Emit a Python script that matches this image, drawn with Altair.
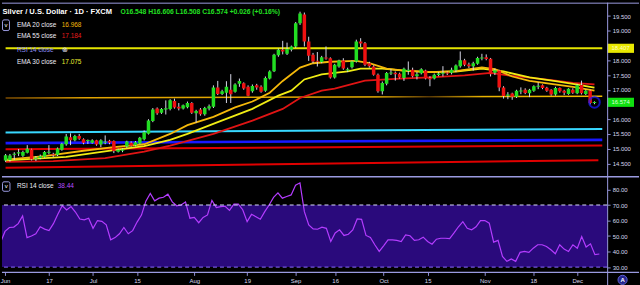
import altair as alt
import pandas as pd

# ---------------- data ----------------
first_day, last_day = "2019-05-31", "2019-12-09"   # daily bars, weekdays

opens = [14.60, 14.62, 14.79, 14.84, 14.76, 14.86, 14.97, 14.66, 14.68, 14.73,
         14.86, 14.80, 14.79, 14.96, 15.15, 15.39, 15.29, 15.43, 15.32, 15.26,
         15.20, 15.29, 15.14, 15.20, 15.27, 15.26, 14.90, 14.93, 15.07, 15.20,
         15.12, 15.18, 15.32, 15.51, 15.94, 16.36, 16.22, 16.33, 16.35, 16.62,
         16.42, 16.36, 16.41, 16.55, 16.20, 16.33, 16.17, 16.36, 16.42, 17.08,
         16.86, 16.90, 17.00, 16.93, 17.20, 17.22, 17.10, 16.95, 17.15, 17.10,
         16.97, 17.38, 17.63, 18.17, 18.36, 18.22, 18.36, 18.47, 19.26, 19.55,
         18.64, 18.19, 17.98, 17.94, 18.08, 18.07, 17.42, 17.79, 17.99, 17.65,
         17.76, 17.96, 18.64, 18.58, 17.90, 17.79, 17.51, 16.95, 17.20, 17.55,
         17.58, 17.54, 17.40, 17.64, 17.68, 17.46, 17.56, 17.65, 17.38, 17.38,
         17.50, 17.54, 17.56, 17.58, 17.66, 17.80, 18.00, 17.86, 17.80, 17.88,
         18.06, 18.10, 18.05, 17.58, 17.65, 17.08, 16.80, 16.87, 16.76, 16.94,
         17.00, 16.88, 16.97, 17.10, 17.15, 17.07, 17.00, 16.84, 17.06, 16.97,
         16.86, 17.00, 16.88, 17.16, 16.86, 16.97, 16.548]
highs = [14.82, 14.82, 14.88, 14.99, 14.93, 15.12, 15.00, 14.75, 14.80, 14.92,
         15.12, 14.86, 15.04, 15.20, 15.50, 15.52, 15.47, 15.50, 15.35, 15.31,
         15.32, 15.30, 15.32, 15.45, 15.30, 15.28, 15.00, 15.01, 15.27, 15.25,
         15.26, 15.40, 15.62, 16.00, 16.38, 16.40, 16.38, 16.64, 16.68, 16.70,
         16.55, 16.50, 16.60, 16.58, 16.32, 16.38, 16.42, 16.50, 17.15, 17.30,
         17.00, 17.29, 17.53, 17.22, 17.38, 17.25, 17.15, 17.18, 17.20, 17.15,
         17.45, 17.66, 18.22, 18.40, 18.66, 18.60, 18.50, 19.30, 19.65, 19.62,
         18.80, 18.25, 18.28, 18.15, 18.47, 18.10, 17.88, 18.02, 18.07, 17.75,
         17.99, 18.70, 18.75, 18.62, 17.95, 17.83, 17.55, 17.28, 17.60, 17.70,
         17.62, 17.58, 17.75, 17.96, 17.75, 17.60, 17.73, 17.68, 17.46, 17.55,
         17.60, 17.80, 17.62, 17.75, 17.86, 18.30, 18.05, 17.92, 17.95, 18.12,
         18.22, 18.20, 18.08, 17.72, 17.68, 17.12, 16.92, 16.90, 17.00, 17.08,
         17.05, 17.03, 17.15, 17.25, 17.18, 17.10, 17.02, 17.10, 17.08, 17.00,
         17.05, 17.05, 17.20, 17.31, 17.00, 17.00, 16.606]
lows = [14.55, 14.56, 14.62, 14.75, 14.72, 14.84, 14.60, 14.58, 14.64, 14.70,
        14.81, 14.72, 14.75, 14.93, 15.10, 15.12, 15.25, 15.30, 15.15, 15.16,
        15.17, 15.10, 15.05, 15.15, 15.15, 14.85, 14.87, 14.88, 15.03, 15.07,
        15.08, 15.15, 15.28, 15.48, 15.90, 16.15, 16.18, 16.16, 16.30, 16.36,
        16.30, 16.33, 16.37, 16.18, 15.88, 16.12, 16.12, 16.30, 16.38, 16.82,
        16.82, 16.55, 16.55, 16.90, 17.10, 17.00, 16.78, 16.90, 17.00, 16.90,
        16.93, 17.35, 17.60, 18.12, 18.20, 18.18, 18.30, 18.42, 19.20, 18.47,
        17.98, 17.90, 17.79, 17.90, 18.02, 17.38, 17.38, 17.75, 17.68, 17.60,
        17.72, 17.92, 18.45, 17.80, 17.75, 17.48, 16.90, 16.84, 17.15, 17.50,
        17.31, 17.38, 17.30, 17.51, 17.42, 17.35, 17.52, 17.35, 17.12, 17.35,
        17.46, 17.45, 17.50, 17.52, 17.60, 17.75, 17.80, 17.74, 17.65, 17.85,
        18.00, 18.00, 17.45, 17.50, 16.95, 16.70, 16.68, 16.66, 16.72, 16.85,
        16.85, 16.75, 16.93, 17.02, 17.02, 16.93, 16.80, 16.80, 16.90, 16.82,
        16.83, 16.86, 16.85, 16.84, 16.82, 16.50, 16.508]
closes = [14.78, 14.77, 14.82, 14.87, 14.89, 15.00, 14.64, 14.69, 14.74, 14.89,
          14.88, 14.78, 15.01, 15.17, 15.41, 15.29, 15.43, 15.34, 15.20, 15.28,
          15.29, 15.14, 15.29, 15.23, 15.20, 14.92, 14.96, 14.97, 15.24, 15.10,
          15.22, 15.37, 15.56, 15.96, 16.33, 16.20, 16.35, 16.37, 16.64, 16.40,
          16.36, 16.47, 16.55, 16.22, 16.28, 16.17, 16.38, 16.44, 17.08, 16.86,
          16.95, 17.10, 16.85, 17.18, 17.30, 17.04, 16.80, 17.13, 17.08, 16.93,
          17.40, 17.62, 18.19, 18.36, 18.30, 18.38, 18.47, 19.26, 19.59, 18.64,
          18.15, 17.96, 17.95, 18.10, 18.06, 17.42, 17.85, 17.99, 17.72, 17.70,
          17.96, 18.64, 18.57, 17.85, 17.80, 17.51, 16.95, 17.23, 17.57, 17.57,
          17.53, 17.42, 17.71, 17.66, 17.46, 17.53, 17.70, 17.38, 17.36, 17.51,
          17.55, 17.56, 17.55, 17.68, 17.82, 18.00, 17.85, 17.80, 17.90, 18.08,
          18.09, 18.04, 17.53, 17.66, 17.08, 16.79, 16.84, 16.76, 16.97, 16.97,
          16.89, 17.00, 17.12, 17.12, 17.06, 16.97, 16.84, 17.06, 16.95, 16.90,
          17.03, 16.90, 17.15, 16.88, 16.97, 16.55, 16.574]
rsi14 = [46, 53, 55.5, 55.8, 58, 63, 49, 50, 51.5, 56,
         54.5, 53.5, 58, 64, 69.5, 66.8, 69, 65.5, 61, 60.5,
         61.5, 55, 60, 59.5, 57.2, 47.6, 49, 51.5, 55.5, 51.5,
         53.5, 59, 63.5, 72.5, 77.4, 72.7, 74.4, 75, 77, 72,
         69.5, 70, 72, 61.5, 62, 58.6, 62, 63.6, 73, 68.3,
         69, 69.2, 66.5, 70.6, 70.6, 67, 59.3, 64, 62.5, 60.8,
         65.7, 70, 74.9, 77.8, 74.4, 75.5, 76.5, 82.8, 84.3, 65.7,
         57.2, 54.6, 54.4, 55.7, 55, 46.5, 52, 54, 50.4, 51.2,
         54, 61, 60.8, 50.4, 49.1, 44.4, 40.1, 43.7, 47.6, 47.6,
         47.2, 46.5, 50.8, 50.2, 47.2, 47.6, 49.3, 46.5, 44.8, 48,
         48.6, 48.6, 48.4, 52, 56, 59.3, 55, 54, 56, 60,
         60, 58.3, 46.1, 47.2, 36.9, 33.7, 35.2, 33.7, 39.5, 40.1,
         39.5, 42.2, 44.4, 44.4, 43.3, 41.2, 38.6, 44.4, 41.6, 40.1,
         44.4, 42.2, 49.7, 42.9, 45, 38, 38.44]

# EMA readings (bar number, value)
ema20_at = [0, 9, 18, 25, 32, 38, 42, 48, 53, 57, 61, 64, 68, 71, 75, 81, 84, 88,
            92, 98, 104, 110, 113, 117, 121, 126, 131, 136]
ema20_val = [14.63, 14.75, 14.93, 15.05, 15.15, 15.5, 15.8, 16.08, 16.4, 16.6, 16.9,
             17.3, 17.75, 17.9, 17.95, 17.98, 17.9, 17.72, 17.65, 17.6, 17.63, 17.76,
             17.7, 17.45, 17.3, 17.2, 17.1, 16.968]
ema30_at = [0, 14, 25, 32, 38, 42, 49, 57, 63, 66, 69, 73, 79, 82, 87, 92, 98, 104,
            110, 115, 121, 127, 131, 136]
ema30_val = [14.6, 14.72, 14.95, 15.09, 15.3, 15.5, 15.9, 16.35, 16.8, 16.97, 17.35,
             17.52, 17.62, 17.72, 17.72, 17.65, 17.6, 17.62, 17.72, 17.62, 17.42,
             17.29, 17.2, 17.075]
ema55_at = [0, 11, 23, 32, 38, 48, 57, 64, 68, 73, 76, 83, 91, 98, 106, 112, 116,
            121, 127, 131, 136]
ema55_val = [14.55, 14.58, 14.68, 14.9, 15.1, 15.5, 15.95, 16.35, 16.72, 16.97, 17.04,
             17.31, 17.38, 17.42, 17.49, 17.57, 17.49, 17.41, 17.31, 17.23, 17.184]

# drawn lines: price at the left end and at the right end
line_names = ["resistance", "support", "cyan", "blue", "red_hi", "red_lo"]
line_from = [18.407, 16.72, 15.547, 15.19, 14.98, 14.35]
line_to = [18.407, 16.78, 15.666, 15.30, 15.11, 14.61]
line_to_bar = [137.8, 137.8, 137.8, 137.8, 137.8, 136.9]

tick_dates = ["2019-06-03", "2019-06-17", "2019-07-01", "2019-07-15", "2019-08-01",
              "2019-08-19", "2019-09-03", "2019-09-16", "2019-10-01", "2019-10-15",
              "2019-11-01", "2019-11-18", "2019-12-02"]
tick_labels = ["Jun", "17", "Jul", "15", "Aug", "19", "Sep", "16", "Oct", "15",
               "Nov", "18", "Dec"]
price_ticks = [14.5, 15.0, 15.5, 16.0, 17.0, 17.5, 18.0, 19.0, 19.5]
rsi_ticks = [30, 40, 50, 60, 70, 80]
rsi_band = [30, 70]

ohlc_text = "O16.548 H16.606 L16.508 C16.574 +0.026 (+0.16%)"
last_close = 16.574
resistance = 18.407
ema20_last, ema55_last, ema30_last = 16.968, 17.184, 17.075
rsi_last = 38.44

# ---------------- styles ----------------
FONT = "Liberation Sans"
UP, DOWN, WICK = "#22dd22", "#ee1111", "#d6d6e6"
C20, C30, C55 = "#f4b80a", "#f0ec14", "#e01414"
BORDER = "#9a9ae0"
W, HP, HR = 608, 175, 96
PX_PER_BAR, FIRST_X = 4.423, -1.4
x_lo = -FIRST_X / PX_PER_BAR
x_hi = x_lo + W / PX_PER_BAR

n = len(closes)
dates = pd.bdate_range(first_day, last_day)
assert len(dates) == n == len(opens) == len(highs) == len(lows) == len(rsi14)
tick_idx = [int(dates.get_loc(pd.Timestamp(d))) for d in tick_dates]

bars = pd.DataFrame({"i": range(n), "o": opens, "h": highs, "l": lows, "c": closes})
bars["dir"] = ["up" if c >= o else "down" for o, c in zip(opens, closes)]
bars["b0"] = bars[["o", "c"]].min(axis=1)
bars["b1"] = bars[["o", "c"]].max(axis=1).clip(lower=bars["b0"] + 0.035)

xs = alt.Scale(domain=[x_lo, x_hi], nice=False, zero=False)
ys = alt.Scale(domain=[14.044, 19.956], nice=False, zero=False)
rs = alt.Scale(domain=[26.6, 88.14], nice=False, zero=False)
X = alt.X("i:Q", scale=xs, axis=None)

price_axis = alt.Axis(orient="right", values=price_ticks, format=".3f", title=None)
rsi_axis = alt.Axis(orient="right", values=rsi_ticks, format=".2f", title=None)


def YP(field):
    return alt.Y(field, scale=ys, axis=price_axis)


def YR(field):
    return alt.Y(field, scale=rs, axis=rsi_axis)


one = pd.DataFrame({"k": [0]})


def label(text, x, y, color, size=6.5, weight="normal", align="left"):
    return alt.Chart(one).mark_text(
        text=text, color=color, fontSize=size, fontWeight=weight, align=align,
        baseline="middle", font=FONT,
    ).encode(x=alt.value(x), y=alt.value(y))


def hrule(y, x0=0, x1=640, color=BORDER, width=1.0):
    return alt.Chart(one).mark_rule(color=color, strokeWidth=width).encode(
        x=alt.value(x0), x2=alt.value(x1), y=alt.value(y))


def vrule(x, y0, y1, color=BORDER, width=1.0):
    return alt.Chart(one).mark_rule(color=color, strokeWidth=width).encode(
        x=alt.value(x), y=alt.value(y0), y2=alt.value(y1))


# ---------------- price pane ----------------
gold_grad = alt.Gradient(
    gradient="linear", x1=0, x2=1, y1=0, y2=0,
    stops=[alt.GradientStop(offset=0, color="#7a4a00"),
           alt.GradientStop(offset=0.14, color="#e2a400"),
           alt.GradientStop(offset=0.62, color="#e2a800"),
           alt.GradientStop(offset=0.71, color="#5a3a05"),
           alt.GradientStop(offset=0.80, color="#eab400"),
           alt.GradientStop(offset=1, color="#f0bc00")])
line_style = {"resistance": ("#e4e400", 2.0), "support": (gold_grad, 1.6),
              "cyan": ("#38d8ff", 2.0), "blue": ("#1818ff", 2.6),
              "red_hi": ("#e00000", 2.0), "red_lo": ("#e00000", 2.0)}

wicks = alt.Chart(bars).mark_rule(color=WICK, strokeWidth=1, clip=True).encode(
    x=X, y=YP("l:Q"), y2="h:Q")
bodies = alt.Chart(bars).mark_bar(size=3.5, clip=True).encode(
    x=X, y=YP("b0:Q"), y2="b1:Q",
    color=alt.Color("dir:N", scale=alt.Scale(domain=["up", "down"], range=[UP, DOWN]),
                    legend=None))

layers = []
for name, p0, p1, b1 in zip(line_names, line_from, line_to, line_to_bar):
    seg = pd.DataFrame({"i": [0, b1], "p": [p0, p1]})
    col, wdt = line_style[name]
    layers.append(alt.Chart(seg).mark_line(stroke=col, strokeWidth=wdt, clip=True)
                  .encode(x=X, y=YP("p:Q")))

for at, val, col in [(ema55_at, ema55_val, C55), (ema30_at, ema30_val, C30),
                     (ema20_at, ema20_val, C20)]:
    e = pd.DataFrame({"i": at, "v": val})
    layers.append(alt.Chart(e).mark_line(color=col, strokeWidth=1.8, clip=True)
                  .encode(x=X, y=YP("v:Q")))

layers += [wicks, bodies]

# price tags on the axis
for p, txt, fill, tcol in [(resistance, "18.407", "#e8e800", "#fbfbc8"),
                           (last_close, "16.574", "#10e010", "#d8ffd8")]:
    t = pd.DataFrame({"p": [p]})
    layers.append(alt.Chart(t).transform_calculate(a="datum.p + 0.155", b="datum.p - 0.155")
                  .mark_rect(color=fill).encode(x=alt.value(608), x2=alt.value(635),
                                                y=YP("a:Q"), y2="b:Q"))
    layers.append(alt.Chart(t).mark_text(text=txt, color=tcol, fontSize=6, font=FONT,
                                         align="center", baseline="middle")
                  .encode(x=alt.value(621.5), y=YP("p:Q")))

# current-bar circle
layers.append(alt.Chart(pd.DataFrame({"i": [n - 1], "p": [last_close]}))
              .mark_point(shape="circle", size=115, filled=False, color="#1a1aff",
                          strokeWidth=2)
              .encode(x=X, y=YP("p:Q")))

# legend block
layers += [
    label("Silver / U.S. Dollar · 1D · FXCM", 0.5, 9, "#ffffff", 7.6, "bold"),
    label(ohlc_text, 119, 9, "#22e022", 6.8, "bold"),
    alt.Chart(one).mark_rect(fill="#000000", stroke=BORDER, strokeWidth=1, cornerRadius=1.5)
    .encode(x=alt.value(0.5), x2=alt.value(7.5), y=alt.value(17.3), y2=alt.value(28)),
    label("v", 4, 22.3, "#ffffff", 6, "normal", "center"),
    label("EMA 20 close", 15, 22.3, "#ececf4"),
    label(f"{ema20_last:.3f}", 60, 22.3, C20),
    label("EMA 55 close", 15, 34, "#ececf4"),
    label(f"{ema55_last:.3f}", 60, 34, "#e81c1c"),
    label("RSI 14 close", 15, 47.5, "#8a8af0"),
    label("⊗", 60, 47.5, "#e0e0f0", 7),
    label("EMA 30 close", 15, 60, "#ececf4"),
    label(f"{ema30_last:.3f}", 60, 60, "#ecec30"),
    hrule(0.5),
    vrule(608.5, 0, HP),
]
price = alt.layer(*layers).properties(width=W, height=HP)

# ---------------- RSI pane ----------------
rsi_df = pd.DataFrame({"i": range(n), "r": rsi14})
x_axis_idx = "[" + ",".join(str(v) for v in tick_idx) + "]"
x_axis_lab = "[" + ",".join("'%s'" % s for s in tick_labels) + "]"
x_expr = (f"indexof({x_axis_idx}, datum.value) >= 0 ? "
          f"{x_axis_lab}[indexof({x_axis_idx}, datum.value)] : ''")

rline = alt.Chart(rsi_df).mark_line(color="#b43cff", strokeWidth=1.2, clip=True).encode(
    x=alt.X("i:Q", scale=xs, axis=alt.Axis(values=tick_idx, labelExpr=x_expr, title=None,
                                           labelFlush=True, labelOverlap=False)),
    y=YR("r:Q"))
band = alt.Chart(pd.DataFrame({"lo": [rsi_band[0]], "hi": [rsi_band[1]]})).mark_rect(
    color="#2a0a7c").encode(x=alt.value(0), x2=alt.value(W), y=YR("lo:Q"), y2="hi:Q")
r70 = alt.Chart(pd.DataFrame({"v": [rsi_band[1]]})).mark_rule(
    color="#dcdcff", strokeDash=[4, 3], strokeWidth=1).encode(y=YR("v:Q"))
r30 = alt.Chart(pd.DataFrame({"v": [rsi_band[0]]})).mark_rule(
    color="#8a6cff", strokeDash=[4, 3], strokeWidth=1).encode(y=YR("v:Q"))

rsi_chart = alt.layer(
    band, rline, r70, r30,
    alt.Chart(one).mark_rect(fill="#000000", stroke=BORDER, strokeWidth=1, cornerRadius=1.5)
    .encode(x=alt.value(0.5), x2=alt.value(8), y=alt.value(5), y2=alt.value(14.5)),
    label("v", 4.2, 9.5, "#ffffff", 6, "normal", "center"),
    label("RSI 14 close", 15, 9.5, "#ececf4"),
    label(f"{rsi_last:.2f}", 56, 9.5, "#b44cff"),
    hrule(0, width=1.5),
    hrule(HR, width=1.2),
    vrule(608.5, 0, 110),
    alt.Chart(one).mark_point(shape="circle", size=85, filled=True, fill="#24248c",
                              stroke="#6060d0", strokeWidth=1, opacity=1)
    .encode(x=alt.value(623.5), y=alt.value(103.5)),
    label("A", 623.5, 103.7, "#ffffff", 6, "bold", "center"),
).properties(width=W, height=HR)

chart = alt.vconcat(price, rsi_chart, spacing=0, bounds="flush").properties(
    padding={"left": 0, "right": 0, "top": 1, "bottom": 0},
    background="#000000",
).configure_view(stroke=None).configure_axis(
    domain=False, grid=False, tickColor="#8c8cd0", tickSize=3, labelPadding=2,
    labelFont=FONT, labelFontSize=6, labelColor="#d8d8ee",
)

chart.save("out.html", embed_options={"renderer": "svg", "actions": False})
